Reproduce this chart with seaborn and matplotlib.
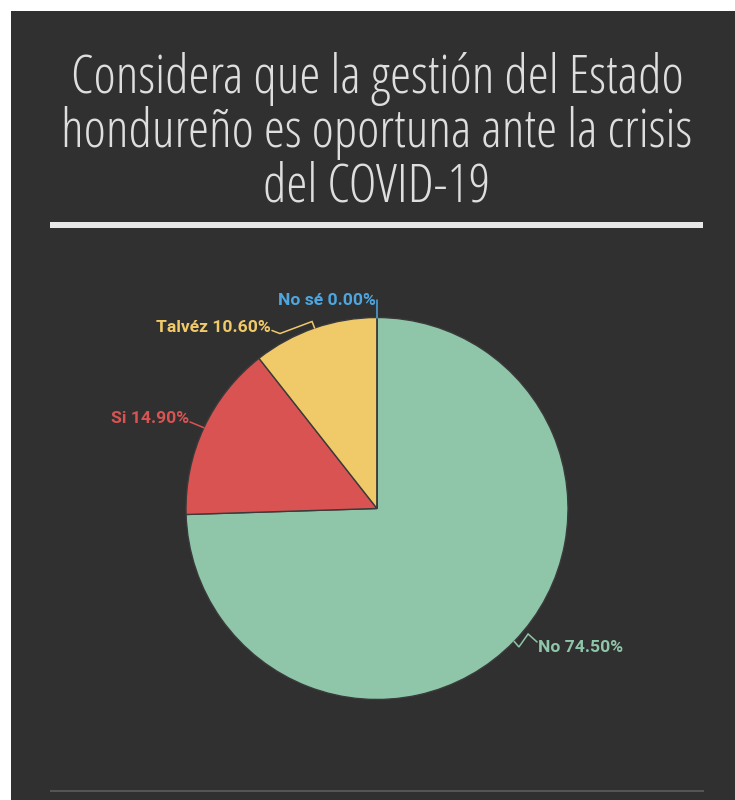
import numpy as np
import seaborn as sns
import matplotlib.pyplot as plt
import matplotlib as mpl
from matplotlib.patches import Rectangle
mpl.use('Agg')

# data
labels = ['No', 'Si', 'Talvéz', 'No sé']
values = [74.50, 14.90, 10.60, 0.00]
colors = ['#8fc5a8', '#d95353', '#f0c968', '#4ea6e0']
title_lines = ['Considera que la gestión del Estado',
               'hondureño es oportuna ante la crisis',
               'del COVID-19']

sns.set_theme(style='dark')
plt.rcParams['font.family'] = ['Roboto', 'DejaVu Sans']
bg = '#303030'

W, H = 735, 800
fig = plt.figure(figsize=(W / 100, H / 100), dpi=100, facecolor='white')
fig.patches.append(Rectangle((11 / W, 0), 1, (H - 11) / H, transform=fig.transFigure,
                             facecolor=bg, edgecolor='none', zorder=-5))

# title, one line per text so the baselines sit where they do in the picture
for line, ybase in zip(title_lines, [93, 147, 201]):
    fig.text(377 / W, 1 - ybase / H, line, ha='center', va='baseline',
             fontsize=38.5, color='#dedede', family='Open Sans',
             fontstretch='condensed', fontweight=300)

# white rule under the title and grey rule at the bottom
fig.patches.append(Rectangle((50 / W, 1 - 228 / H), 653 / W, 6 / H, transform=fig.transFigure,
                             facecolor='#e8e8e8', edgecolor='none', zorder=-4))
fig.patches.append(Rectangle((50 / W, 1 - 792 / H), 654 / W, 2 / H, transform=fig.transFigure,
                             facecolor='#555555', edgecolor='none', zorder=-4))

# pie
cx, cy, r = 377, 508.5, 191
ax = fig.add_axes([(cx - r) / W, (H - cy - r) / H, 2 * r / W, 2 * r / H])
ax.patch.set_alpha(0)
wedges, _ = ax.pie(values, colors=sns.color_palette(colors), startangle=90, counterclock=False,
                   wedgeprops=dict(edgecolor='#3a3a3a', linewidth=1.0))
ax.set_xlim(-1, 1)
ax.set_ylim(-1, 1)
ax.axis('off')

# label layout: leader points after the wedge edge, and text spot (pie radius = 1)
legs = {
    'No': [(0.743, -0.725), (0.791, -0.657), (0.838, -0.699)],
    'Si': [(-0.979, 0.453)],
    'Talvéz': [(-0.340, 0.979), (-0.508, 0.916), (-0.550, 0.932)],
    'No sé': [(0.0, 1.092)],
}
text_at = {
    'No': (0.843, -0.751, 'left'),
    'Si': (-0.985, 0.448, 'right'),
    'Talvéz': (-0.555, 0.922, 'right'),
    'No sé': (-0.008, 1.065, 'right'),
}

for w, lab, val, col in zip(wedges, labels, values, colors):
    mid = np.deg2rad((w.theta1 + w.theta2) / 2)
    pts = [(np.cos(mid), np.sin(mid))] + legs[lab]
    xs, ys = zip(*pts)
    ax.plot(xs, ys, color=col, lw=1.1, clip_on=False, solid_joinstyle='miter')
    tx, ty, ha = text_at[lab]
    ax.text(tx, ty, '%s %.2f%%' % (lab, val), ha=ha, va='baseline', color=col,
            fontsize=12.6, fontweight='bold', clip_on=False)

plt.savefig('out.png', dpi=100, facecolor='white')
